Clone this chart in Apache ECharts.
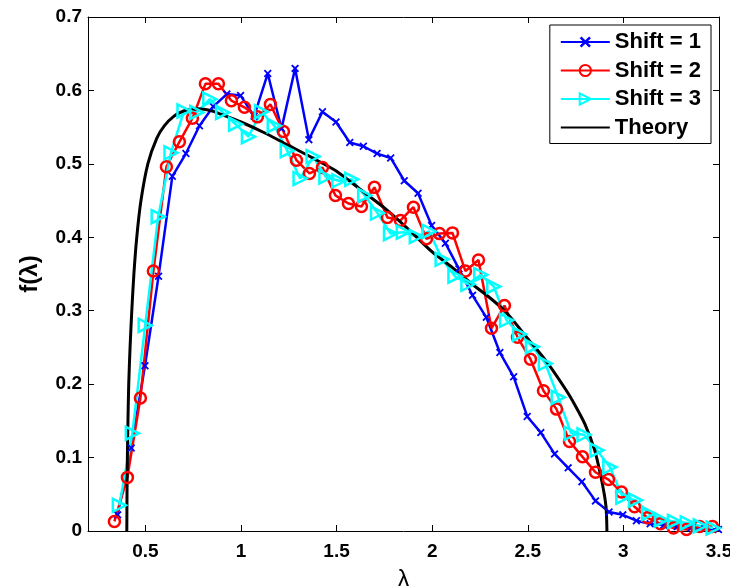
<!DOCTYPE html>
<html>
<head>
<meta charset="utf-8">
<script src="https://cdn.jsdelivr.net/npm/echarts@6/dist/echarts.min.js"></script>
<style>html,body{margin:0;padding:0;background:#fff}#c{width:730px;height:586px}</style>
</head>
<body>
<div id="c"></div>
<script>
// ---- data ----
const xTicks = [0.5, 1, 1.5, 2, 2.5, 3, 3.5];
const yTicks = [0, 0.1, 0.2, 0.3, 0.4, 0.5, 0.6, 0.7];

const shift1X = [0.355,0.426,0.498,0.569,0.641,0.712,0.783,0.855,0.926,0.998,1.069,1.140,1.212,1.283,1.355,1.426,1.497,1.569,1.640,1.712,1.783,1.854,1.926,1.997,2.069,2.140,2.211,2.283,2.354,2.426,2.497,2.568,2.640,2.711,2.783,2.854,2.925,2.997,3.068,3.140,3.211,3.282,3.354,3.425,3.497];
const shift1Y = [0.022,0.113,0.225,0.347,0.483,0.514,0.552,0.578,0.595,0.593,0.565,0.623,0.548,0.630,0.533,0.571,0.557,0.529,0.524,0.514,0.508,0.477,0.460,0.416,0.392,0.357,0.321,0.291,0.243,0.210,0.156,0.134,0.105,0.086,0.067,0.041,0.026,0.022,0.014,0.010,0.008,0.006,0.004,0.003,0.002];

const shift2X = [0.338,0.406,0.474,0.542,0.610,0.678,0.746,0.814,0.882,0.950,1.018,1.086,1.154,1.222,1.290,1.358,1.426,1.494,1.562,1.630,1.698,1.766,1.834,1.902,1.970,2.038,2.106,2.174,2.242,2.310,2.378,2.446,2.514,2.582,2.650,2.718,2.786,2.854,2.922,2.990,3.058,3.126,3.194,3.262,3.330,3.398,3.466];
const shift2Y = [0.013,0.073,0.181,0.354,0.496,0.530,0.562,0.609,0.609,0.586,0.577,0.564,0.581,0.544,0.505,0.487,0.495,0.457,0.446,0.442,0.468,0.427,0.423,0.441,0.398,0.405,0.406,0.354,0.369,0.276,0.307,0.264,0.234,0.191,0.166,0.122,0.101,0.080,0.070,0.053,0.033,0.018,0.010,0.004,0.002,0.006,0.006];

const shift3X = [0.364,0.432,0.499,0.567,0.634,0.702,0.769,0.837,0.904,0.972,1.039,1.107,1.174,1.242,1.309,1.377,1.444,1.512,1.579,1.647,1.714,1.782,1.849,1.917,1.984,2.052,2.119,2.187,2.254,2.322,2.389,2.457,2.524,2.592,2.659,2.727,2.794,2.862,2.929,2.997,3.064,3.132,3.199,3.267,3.334,3.402,3.469];
const shift3Y = [0.035,0.133,0.280,0.428,0.515,0.572,0.570,0.588,0.570,0.554,0.537,0.571,0.552,0.518,0.480,0.510,0.482,0.477,0.479,0.457,0.433,0.405,0.407,0.401,0.408,0.370,0.347,0.336,0.349,0.333,0.287,0.268,0.251,0.228,0.182,0.133,0.131,0.110,0.087,0.046,0.042,0.024,0.015,0.013,0.011,0.007,0.004];

const theoryX = [0.403,0.404,0.406,0.409,0.413,0.420,0.429,0.440,0.455,0.477,0.513,0.560,0.600,0.650,0.700,0.774,0.850,0.900,1.000,1.125,1.250,1.375,1.500,1.625,1.750,1.875,2.000,2.100,2.200,2.300,2.390,2.500,2.600,2.700,2.750,2.800,2.850,2.880,2.900,2.910,2.914];
const theoryY = [0.000,0.050,0.100,0.150,0.200,0.250,0.300,0.350,0.400,0.450,0.500,0.535,0.552,0.565,0.572,0.575,0.572,0.567,0.557,0.542,0.525,0.508,0.490,0.465,0.440,0.411,0.380,0.360,0.338,0.318,0.297,0.262,0.230,0.192,0.170,0.145,0.110,0.077,0.050,0.030,0.000];

const seriesNames = ['Shift = 1', 'Shift = 2', 'Shift = 3', 'Theory'];

function pairs(xs, ys) { return xs.map((x, i) => [x, ys[i]]); }

const xMark = 'path://M0,1.6L1.6,0L5,3.4L8.4,0L10,1.6L6.6,5L10,8.4L8.4,10L5,6.6L1.6,10L0,8.4L3.4,5Z';
const triRight = 'path://M0,0L10,5L0,10Z';

const chart = echarts.init(document.getElementById('c'), null, {renderer: 'canvas'});
const fontFam = '"Liberation Sans", Arial, Helvetica, sans-serif';
const axisCommon = {
  axisLine: {show: true, onZero: false, lineStyle: {color: '#000', width: 1}},
  splitLine: {show: false}
};
chart.setOption({
  animation: false,
  backgroundColor: '#fff',
  grid: {left: 88, right: 11, top: 17, bottom: 55, containLabel: false, outerBoundsMode: 'none'},
  legend: {
    orient: 'vertical', right: 19, top: 25,
    data: [
      {name: seriesNames[0]},
      {name: seriesNames[1]},
      {name: seriesNames[2]},
      {name: seriesNames[3], itemStyle: {opacity: 0}}
    ],
    itemWidth: 49, itemHeight: 14, itemGap: 6.5,
    padding: [6, 10, 5, 10],
    borderColor: '#000', borderWidth: 1, backgroundColor: '#fff',
    textStyle: {fontFamily: fontFam, fontWeight: 'bold', fontSize: 22, lineHeight: 22, color: '#000'}
  },
  xAxis: [{
    type: 'value', min: 0.2, max: 3.5, position: 'bottom',
    ...axisCommon,
    name: 'λ', nameLocation: 'middle', nameGap: 37,
    nameTextStyle: {fontFamily: fontFam, fontSize: 24, color: '#000'},
    axisTick: {show: true, inside: true, length: 6, lineStyle: {color: '#000'}, customValues: xTicks},
    axisLabel: {show: true, margin: 11, fontFamily: fontFam, fontWeight: 'bold', fontSize: 19, color: '#000', customValues: xTicks}
  }, {
    type: 'value', min: 0.2, max: 3.5, position: 'top',
    ...axisCommon,
    axisTick: {show: true, inside: true, length: 6, lineStyle: {color: '#000'}, customValues: xTicks},
    axisLabel: {show: false, customValues: xTicks}
  }],
  yAxis: [{
    type: 'value', min: 0, max: 0.7, interval: 0.1, position: 'left',
    ...axisCommon,
    name: 'f(λ)', nameLocation: 'middle', nameGap: 46,
    nameTextStyle: {fontFamily: fontFam, fontWeight: 'bold', fontSize: 24, color: '#000'},
    axisTick: {show: true, inside: true, length: 6, lineStyle: {color: '#000'}},
    axisLabel: {show: true, margin: 6, fontFamily: fontFam, fontWeight: 'bold', fontSize: 19, color: '#000',
      formatter: v => String(Math.round(v * 10) / 10)}
  }, {
    type: 'value', min: 0, max: 0.7, interval: 0.1, position: 'right',
    ...axisCommon,
    axisTick: {show: true, inside: true, length: 6, lineStyle: {color: '#000'}},
    axisLabel: {show: false}
  }],
  series: [{
    name: seriesNames[0], type: 'line', data: pairs(shift1X, shift1Y),
    symbol: xMark, symbolSize: 8, showAllSymbol: true,
    lineStyle: {color: '#0000ff', width: 2.5},
    itemStyle: {color: '#0000ff'}
  }, {
    name: seriesNames[1], type: 'line', data: pairs(shift2X, shift2Y),
    symbol: 'circle', symbolSize: 11, showAllSymbol: true,
    lineStyle: {color: '#ff0000', width: 2.5},
    itemStyle: {color: 'rgba(255,255,255,0)', borderColor: '#ff0000', borderWidth: 2.5}
  }, {
    name: seriesNames[2], type: 'line', data: pairs(shift3X, shift3Y),
    symbol: triRight, symbolSize: 13, showAllSymbol: true,
    lineStyle: {color: '#00ffff', width: 2.5},
    itemStyle: {color: 'rgba(255,255,255,0)', borderColor: '#00ffff', borderWidth: 2.5}
  }, {
    name: seriesNames[3], type: 'line', data: pairs(theoryX, theoryY),
    symbol: 'none', smooth: 0.25,
    lineStyle: {color: '#000000', width: 3},
    itemStyle: {color: '#000000'}
  }]
});
</script>
</body>
</html>
